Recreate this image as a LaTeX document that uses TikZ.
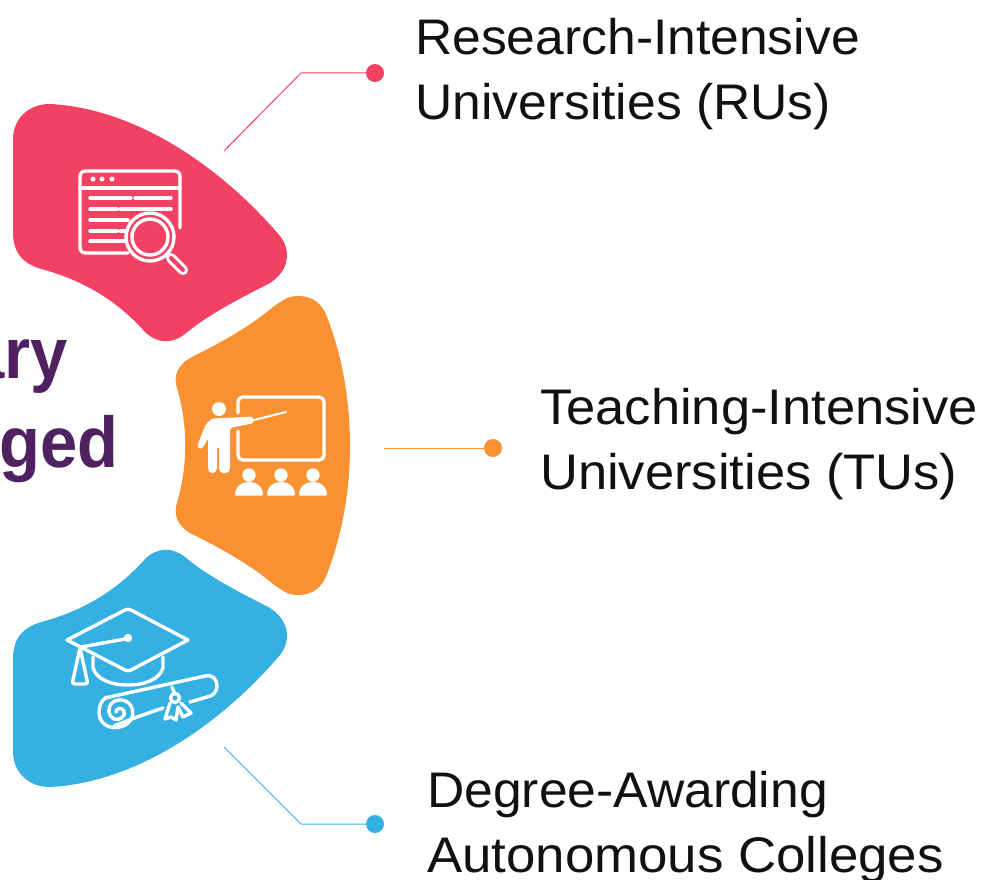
\documentclass[tikz,border=0pt]{standalone}
\usepackage{fontspec}
\setmainfont{Liberation Sans}
\newfontfamily\labelfontA[FakeStretch=1.032]{Liberation Sans}
\newfontfamily\labelfontB[FakeStretch=1.05]{Liberation Sans}
\newfontfamily\labelfontC[FakeStretch=1.056]{Liberation Sans}
\newfontfamily\titlefont[FakeStretch=0.93]{Liberation Sans Bold}
\definecolor{cred}{HTML}{F34164}
\definecolor{corange}{HTML}{F79131}
\definecolor{cblue}{HTML}{34B0E2}
\definecolor{cpurple}{HTML}{4F2160}
\definecolor{cink}{HTML}{111111}
\tikzset{
  petal/.style={draw=none},
  lead/.style={line width=1pt},
  dot/.style={circle,inner sep=0pt,minimum size=18pt},
  label/.style={anchor=west,align=left,text=cink,inner sep=0pt,font=\fontsize{50}{65}\selectfont},
  title/.style={anchor=base east,text=cpurple,inner sep=0pt,font=\titlefont\fontsize{72}{72}\selectfont},
  icon/.style={draw=white,line width=3.4pt,line cap=round,line join=round},
}
\newcommand{\redpetal}{(13,140) .. controls (13,117) and (30,104) .. (50,104)
   .. controls (130,108) and (215,160) .. (280,236)
   .. controls (291,250) and (290,270) .. (270,283)
   .. controls (245,296) and (210,313) .. (185,334)
   .. controls (172,344) and (158,344) .. (145,332)
   .. controls (115,298) and (80,280) .. (45,270)
   .. controls (25,265) and (13,255) .. (13,232) -- cycle}
\begin{document}
\begin{tikzpicture}[x=1pt,y=-1pt]
\useasboundingbox (0,0) rectangle (987,880);
\fill[white] (0,0) rectangle (987,880);
% title fragments
\begin{scope}
\clip (0,0) rectangle (987,880);
\node[title] (t1) at (68,378) {ary};
\node[title] (t2) at (119,467) {ged};
\end{scope}
% petals
\fill[cred,petal] \redpetal;
\begin{scope}[yshift=-891pt,yscale=-1]
\fill[cblue,petal] \redpetal;
\end{scope}
\fill[corange,petal] (298,296) .. controls (312,296) and (322,303) .. (327,317)
  .. controls (342,355) and (350,400) .. (350,446)
  .. controls (350,492) and (342,535) .. (327,574)
  .. controls (322,588) and (312,595) .. (298,595)
  .. controls (288,595) and (283,591) .. (273,584)
  .. controls (248,563) and (220,548) .. (190,533)
  .. controls (178,526) and (173,515) .. (177,503)
  .. controls (188,465) and (188,425) .. (177,388)
  .. controls (173,376) and (178,365) .. (190,358)
  .. controls (220,343) and (248,328) .. (273,307)
  .. controls (283,300) and (288,296) .. (298,296) -- cycle;
% connectors
\coordinate (r0) at (224,151);
\coordinate (r1) at (301,73);
\coordinate (o0) at (384,448);
\coordinate (b0) at (224,747);
\coordinate (b1) at (301,824);
\node[dot,fill=cred] (rd) at (375,73) {};
\node[dot,fill=corange] (od) at (493,448) {};
\node[dot,fill=cblue] (bd) at (375,824) {};
\draw[lead,cred] (r0) -- (r1) -- (rd);
\draw[lead,corange] (o0) -- (od);
\draw[lead,cblue] (b0) -- (b1) -- (bd);
% labels
\node[label] (rl) at (415,74) {\labelfontA Research-Intensive\\\labelfontA Universities (RUs)};
\node[label] (ol) at (540,444.5) {\labelfontB Teaching-Intensive\\\labelfontB Universities (TUs)};
\node[label] (bl) at (427,827) {\labelfontA Degree-Awarding\\\labelfontC Autonomous Colleges};
% icon 1
\begin{scope}[icon]
\draw (128,253) -- (86,253) .. controls (82,253) and (80,251) .. (80,247) -- (80,177)
  .. controls (80,173) and (82,171) .. (86,171) -- (174,171)
  .. controls (178,171) and (180,173) .. (180,177) -- (180,228);
\draw (80,188) -- (180,188);
\draw (90,198) -- (131,198) (135,198) -- (171,198);
\draw (90,209) -- (117,209) (120,209) -- (171,209);
\draw (90,220) -- (128,220);
\draw (90,231) -- (117,231) (120,231) -- (127,231);
\draw (90,241) -- (126,241);
\draw (150,237) circle (24);
\draw (150,237) circle (18);
\draw (168,255) -- (171,258);
\draw[line width=10pt] (171,258) -- (183,270);
\draw[draw=cred,line width=4pt] (171,258) -- (183,270);
\end{scope}
\fill[white] (93,179) circle (2.5) (102,179) circle (2.5) (112,179) circle (2.5);
% icon 2
\draw[icon] (238,413) -- (238,402) .. controls (238,399) and (240,397) .. (243,397) -- (319,397)
  .. controls (322,397) and (324,399) .. (324,402) -- (324,455)
  .. controls (324,458) and (322,460) .. (319,460) -- (243,460)
  .. controls (240,460) and (238,458) .. (238,455) -- (238,431);
\fill[white] (219,409) circle (7);
\fill[white,rounded corners=2pt] (212,418.5) -- (224,418) -- (253,416.5) -- (254,423) -- (230,428)
  -- (230,470) -- (228,473) -- (221,473) -- (219,470) -- (219,447) -- (217,447) -- (217,470) -- (215,473) -- (210,473) -- (208,470)
  -- (208,438) -- (203,448) -- (199,449) -- (197,446) -- (206,424) -- cycle;
\draw[white,line width=2pt,line cap=round] (254,420) -- (286,412);
\foreach \cx in {249,281,313}{
  \fill[white] (\cx,475) circle (6.7);
  \fill[white,rounded corners=1pt] (\cx-14,495.5) .. controls (\cx-14,487) and (\cx-8,482) .. (\cx,482)
     .. controls (\cx+8,482) and (\cx+14,487) .. (\cx+14,495.5) -- cycle;
}
% icon 3
\begin{scope}[icon]
\draw (67,640) -- (125,610) .. controls (127,609) and (129,609) .. (131,610) -- (188,640) -- (131,670)
  .. controls (129,671) and (127,671) .. (125,670) -- cycle;
\draw (128,638.5) -- (81,647);
\draw (80,648) -- (73,680) .. controls (72,683) and (73,684) .. (75,684) -- (85,684)
  .. controls (87,684) and (88,683) .. (87,680) -- cycle;
\draw (93,657) -- (93,668) .. controls (97,680) and (112,685) .. (128,685)
  .. controls (144,685) and (159,680) .. (163,668) -- (163,657);
% scroll
\draw (105,698) -- (205,676) .. controls (213,674) and (217,680) .. (217,686)
  .. controls (217,692) and (213,696) .. (207,697) -- (190,702);
\draw (163,708) -- (137,717) -- (114,726);
\draw (107,697) .. controls (99,701) and (98,712) .. (100,718)
  .. controls (103,726) and (112,729) .. (120,727) .. controls (130,725) and (136,715) .. (131,706)
  .. controls (127,699) and (117,698) .. (112,703) .. controls (107,708) and (108,716) .. (114,719)
  .. controls (120,721) and (126,716) .. (124,711) .. controls (122,707) and (116,708) .. (116,712);
\draw (172,687) -- (174,692);
\draw (175,698) circle (4.5);
\draw (170,703) -- (165,719) -- (171,717) -- (176,720) -- (178,707);
\draw (178,707) -- (183,717) -- (191,713) -- (181,703);
\end{scope}
\fill[white] (128,638) circle (4.2);
\end{tikzpicture}
\end{document}
